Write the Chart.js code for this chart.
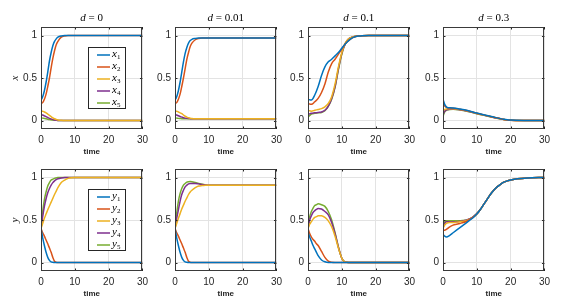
<!DOCTYPE html>
<html><head><meta charset="utf-8">
<script src="https://cdn.jsdelivr.net/npm/chart.js@4/dist/chart.umd.min.js"></script>
<style>
html,body{margin:0;padding:0;background:#fff;}
body{width:569px;height:304px;position:relative;overflow:hidden;}
canvas{position:absolute;}
</style></head>
<body>
<script>
// ---------- data ----------
const dValues = ['0', '0.01', '0.1', '0.3'];
const seriesNames = ['1', '2', '3', '4', '5'];
const xTickVals = [0, 10, 20, 30];
const yTickVals = [0, 0.5, 1];

// top row: x_i(t)
const tX0 = [0,0.5,1,1.5,2,2.5,3,3.5,4,4.5,5,6,7,8,10,20,30];
const x1_d0 = [0.24,0.28,0.35,0.45,0.57,0.70,0.80,0.88,0.93,0.96,0.98,0.995,1,1,1,1,1];
const x2_d0 = [0.20,0.21,0.25,0.31,0.40,0.50,0.62,0.73,0.82,0.89,0.93,0.98,0.995,1,1,1,1];
const x3_d0 = [0.11,0.11,0.10,0.09,0.075,0.06,0.045,0.03,0.02,0.012,0.006,0.002,0,0,0,0,0];
const x4_d0 = [0.07,0.065,0.055,0.045,0.035,0.025,0.017,0.01,0.006,0.003,0.001,0,0,0,0,0,0];
const x5_d0 = [0.03,0.028,0.024,0.02,0.015,0.011,0.008,0.005,0.003,0.002,0.001,0,0,0,0,0,0];

const tX1 = [0,0.5,1,1.5,2,2.5,3,3.5,4,4.5,5,6,7,8,10,20,30];
const x1_d1 = [0.24,0.28,0.35,0.45,0.57,0.69,0.79,0.86,0.91,0.94,0.955,0.965,0.97,0.97,0.97,0.97,0.97];
const x2_d1 = [0.20,0.21,0.25,0.31,0.40,0.50,0.61,0.72,0.80,0.87,0.91,0.95,0.965,0.97,0.97,0.97,0.97];
const x3_d1 = [0.11,0.11,0.10,0.09,0.08,0.065,0.05,0.04,0.032,0.027,0.024,0.021,0.02,0.02,0.02,0.02,0.02];
const x4_d1 = [0.07,0.065,0.056,0.047,0.04,0.033,0.028,0.025,0.023,0.022,0.021,0.02,0.02,0.02,0.02,0.02,0.02];
const x5_d1 = [0.03,0.028,0.025,0.023,0.021,0.02,0.02,0.02,0.02,0.02,0.02,0.02,0.02,0.02,0.02,0.02,0.02];

const tX2 = [0,1,2,3,4,5,6,7,8,9,10,11,12,13,14,15,16,18,20,30];
const x1_d2 = [0.25,0.24,0.30,0.40,0.53,0.63,0.69,0.72,0.76,0.80,0.85,0.90,0.94,0.97,0.985,0.993,0.997,1,1,1];
const x2_d2 = [0.20,0.19,0.22,0.26,0.33,0.43,0.57,0.67,0.72,0.78,0.84,0.90,0.94,0.97,0.985,0.993,0.997,1,1,1];
const x3_d2 = [0.12,0.11,0.12,0.13,0.14,0.16,0.20,0.28,0.43,0.63,0.80,0.91,0.96,0.98,0.99,0.995,0.998,1,1,1];
const x4_d2 = [0.07,0.085,0.09,0.095,0.10,0.12,0.17,0.26,0.40,0.61,0.79,0.90,0.96,0.98,0.99,0.995,0.998,1,1,1];
const x5_d2 = [0.04,0.075,0.085,0.09,0.095,0.115,0.165,0.25,0.39,0.60,0.78,0.90,0.955,0.98,0.99,0.995,0.998,1,1,1];

const tX3 = [0,0.5,1,1.5,2,3,5,7,10,12,15,17,18,19,20,25,30];
const x1_d3 = [0.25,0.19,0.16,0.15,0.15,0.148,0.135,0.12,0.088,0.068,0.04,0.022,0.014,0.008,0.005,0.001,0];
const x2_d3 = [0.20,0.17,0.155,0.148,0.146,0.144,0.132,0.117,0.086,0.066,0.039,0.021,0.013,0.007,0.004,0.001,0];
const x3_d3 = [0.12,0.13,0.135,0.137,0.138,0.138,0.128,0.114,0.083,0.064,0.037,0.02,0.012,0.007,0.004,0.001,0];
const x4_d3 = [0.07,0.11,0.125,0.13,0.133,0.135,0.126,0.112,0.082,0.063,0.036,0.02,0.012,0.007,0.004,0.001,0];
const x5_d3 = [0.05,0.10,0.12,0.127,0.13,0.132,0.124,0.11,0.08,0.062,0.035,0.019,0.011,0.006,0.004,0.001,0];

// bottom row: y_i(t)
const tY0 = [0,0.5,1,1.5,2,2.5,3,3.5,4,4.5,5,6,7,8,9,10,20,30];
const y1_d0 = [0.4,0.29,0.2,0.12,0.06,0.025,0.008,0.002,0,0,0,0,0,0,0,0,0,0];
const y2_d0 = [0.4,0.35,0.31,0.265,0.22,0.17,0.12,0.06,0.015,0.003,0,0,0,0,0,0,0,0];
const y3_d0 = [0.4,0.46,0.52,0.57,0.62,0.665,0.71,0.755,0.80,0.84,0.88,0.94,0.97,0.99,0.998,1,1,1];
const y4_d0 = [0.4,0.54,0.66,0.75,0.82,0.87,0.91,0.94,0.96,0.975,0.985,0.995,1,1,1,1,1,1];
const y5_d0 = [0.4,0.6,0.74,0.83,0.9,0.94,0.97,0.98,0.99,0.995,1,1,1,1,1,1,1,1];

const tY1 = [0,0.5,1,1.5,2,2.5,3,3.5,4,4.5,5,6,7,8,9,10,20,30];
const y1_d1 = [0.4,0.29,0.2,0.12,0.06,0.025,0.008,0.002,0,0,0,0,0,0,0,0,0,0];
const y2_d1 = [0.4,0.35,0.31,0.265,0.22,0.17,0.12,0.06,0.015,0.003,0,0,0,0,0,0,0,0];
const y3_d1 = [0.4,0.46,0.52,0.575,0.63,0.675,0.72,0.76,0.80,0.83,0.85,0.88,0.90,0.905,0.908,0.91,0.91,0.91];
const y4_d1 = [0.4,0.52,0.62,0.72,0.8,0.85,0.89,0.91,0.925,0.93,0.93,0.93,0.925,0.918,0.913,0.91,0.91,0.91];
const y5_d1 = [0.4,0.58,0.72,0.81,0.87,0.91,0.93,0.945,0.95,0.952,0.95,0.94,0.93,0.92,0.913,0.91,0.91,0.91];

const tY2 = [0,0.5,1,1.5,2,2.5,3,4,5,6,7,8,9,10,10.5,11,12,20,30];
const y1_d2 = [0.36,0.3,0.25,0.2,0.16,0.12,0.08,0.03,0.008,0,0,0,0,0,0,0,0,0,0];
const y2_d2 = [0.4,0.34,0.3,0.27,0.25,0.22,0.2,0.13,0.06,0.015,0.002,0,0,0,0,0,0,0,0];
const y3_d2 = [0.4,0.45,0.48,0.51,0.53,0.54,0.55,0.55,0.53,0.49,0.42,0.31,0.17,0.05,0.02,0.005,0,0,0];
const y4_d2 = [0.4,0.5,0.55,0.59,0.61,0.625,0.635,0.63,0.6,0.56,0.47,0.34,0.18,0.05,0.02,0.005,0,0,0];
const y5_d2 = [0.42,0.54,0.6,0.64,0.67,0.68,0.69,0.68,0.66,0.6,0.5,0.35,0.18,0.05,0.02,0.005,0,0,0];

const tY3 = [0,0.5,1,2,3,4,5,6,7,8,9,10,11,12,13,14,15,16,17,18,19,20,22,25,30];
const y1_d3 = [0.33,0.31,0.30,0.32,0.35,0.38,0.41,0.44,0.47,0.50,0.53,0.57,0.62,0.68,0.74,0.80,0.85,0.89,0.92,0.945,0.96,0.97,0.985,0.995,1.0];
const y2_d3 = [0.38,0.38,0.39,0.42,0.44,0.45,0.46,0.47,0.485,0.51,0.535,0.57,0.62,0.68,0.74,0.80,0.85,0.89,0.92,0.945,0.96,0.97,0.985,0.995,1.0];
const y3_d3 = [0.40,0.44,0.46,0.47,0.47,0.475,0.48,0.485,0.495,0.51,0.535,0.57,0.62,0.68,0.74,0.80,0.85,0.89,0.92,0.945,0.96,0.97,0.985,0.995,1.0];
const y4_d3 = [0.42,0.46,0.48,0.48,0.48,0.48,0.485,0.49,0.50,0.515,0.54,0.575,0.62,0.68,0.74,0.80,0.85,0.89,0.92,0.945,0.96,0.97,0.985,0.995,1.0];
const y5_d3 = [0.44,0.48,0.49,0.49,0.49,0.49,0.49,0.495,0.50,0.515,0.54,0.575,0.62,0.68,0.74,0.80,0.85,0.89,0.92,0.945,0.96,0.97,0.985,0.995,1.0];

// ---------- styling / layout ----------
const COLORS = ['#0072BD', '#D95319', '#EDB120', '#7E2F8E', '#77AC30'];
const colLeft = [41, 175, 308, 443];
const rowTop = [27, 169];
const PW = 102, PH = 102;
const ML = 40, MT = 27, MR = 10, MB = 28;

const panels = [
  {row:0, col:0, v:'x', t:tX0, s:[x1_d0,x2_d0,x3_d0,x4_d0,x5_d0], legend:true},
  {row:0, col:1, v:'x', t:tX1, s:[x1_d1,x2_d1,x3_d1,x4_d1,x5_d1]},
  {row:0, col:2, v:'x', t:tX2, s:[x1_d2,x2_d2,x3_d2,x4_d2,x5_d2]},
  {row:0, col:3, v:'x', t:tX3, s:[x1_d3,x2_d3,x3_d3,x4_d3,x5_d3]},
  {row:1, col:0, v:'y', t:tY0, s:[y1_d0,y2_d0,y3_d0,y4_d0,y5_d0], legend:true},
  {row:1, col:1, v:'y', t:tY1, s:[y1_d1,y2_d1,y3_d1,y4_d1,y5_d1]},
  {row:1, col:2, v:'y', t:tY2, s:[y1_d2,y2_d2,y3_d2,y4_d2,y5_d2]},
  {row:1, col:3, v:'y', t:tY3, s:[y1_d3,y2_d3,y3_d3,y4_d3,y5_d3]},
];

const SERIF = '"Liberation Serif", "DejaVu Serif", serif';
const SANS = '"Liberation Sans", Arial, sans-serif';

function drawParts(ctx, parts, x, cy, align) {
  let total = 0;
  parts.forEach(p => { ctx.font = p.font; p.w = ctx.measureText(p.text).width; total += p.w; });
  let cx = align === 'center' ? x - total / 2 : x;
  ctx.textBaseline = 'middle'; ctx.textAlign = 'left';
  parts.forEach(p => { ctx.font = p.font; ctx.fillText(p.text, cx, cy + (p.dy || 0)); cx += p.w; });
}

const framePlugin = {
  id: 'frame',
  afterDatasetsDraw(chart, args, opts) {
    const ctx = chart.ctx;
    const a = chart.chartArea;
    const xs = chart.scales.x, ys = chart.scales.y;
    ctx.save();
    // inward ticks
    ctx.strokeStyle = '#262626';
    ctx.lineWidth = 1;
    ctx.beginPath();
    xTickVals.forEach(v => {
      const px = Math.round(xs.getPixelForValue(v)) + 0.5;
      ctx.moveTo(px, a.bottom); ctx.lineTo(px, a.bottom - 2.5);
      ctx.moveTo(px, a.top); ctx.lineTo(px, a.top + 2.5);
    });
    yTickVals.forEach(v => {
      const py = Math.round(ys.getPixelForValue(v)) + 0.5;
      ctx.moveTo(a.left, py); ctx.lineTo(a.left + 2.5, py);
      ctx.moveTo(a.right, py); ctx.lineTo(a.right - 2.5, py);
    });
    ctx.stroke();
    // box
    ctx.strokeStyle = '#3a3a3a';
    ctx.strokeRect(Math.round(a.left) + 0.5, Math.round(a.top) + 0.5,
                   Math.round(a.right - a.left) - 1, Math.round(a.bottom - a.top) - 1);
    // title
    ctx.fillStyle = '#000';
    if (opts.title) {
      drawParts(ctx, [
        {text: 'd', font: 'italic 11px ' + SERIF},
        {text: ' = ' + opts.title, font: '11px ' + SERIF},
      ], (a.left + a.right) / 2, a.top - 8.5, 'center');
    }
    // legend
    if (opts.legend) {
      const bx = Math.round(a.left + 47) + 0.5, by = Math.round(a.top + 20) + 0.5;
      const bw = 37, bh = 61;
      ctx.fillStyle = '#fff';
      ctx.fillRect(bx, by, bw, bh);
      ctx.strokeStyle = '#262626';
      ctx.lineWidth = 1;
      ctx.strokeRect(bx, by, bw, bh);
      chart.data.datasets.forEach((ds, i) => {
        const yy = by + 7.5 + i * 12;
        ctx.strokeStyle = ds.borderColor;
        ctx.lineWidth = 1.5;
        ctx.beginPath(); ctx.moveTo(bx + 8.5, yy); ctx.lineTo(bx + 21.5, yy); ctx.stroke();
        ctx.fillStyle = '#000';
        drawParts(ctx, [
          {text: opts.v, font: 'italic 11px ' + SERIF},
          {text: seriesNames[i], font: '7px ' + SERIF, dy: 2.5},
        ], bx + 23.5, yy - 0.5, 'left');
      });
    }
    ctx.restore();
  }
};

panels.forEach(p => {
  const c = document.createElement('canvas');
  const w = ML + PW + MR, h = MT + PH + MB;
  c.width = w; c.height = h;
  c.style.width = w + 'px'; c.style.height = h + 'px';
  c.style.left = (colLeft[p.col] - ML) + 'px';
  c.style.top = (rowTop[p.row] - MT) + 'px';
  document.body.appendChild(c);

  const datasets = p.s.map((vals, i) => ({
    label: p.v + seriesNames[i],
    data: p.t.map((tt, k) => ({x: tt, y: vals[k]})),
    borderColor: COLORS[i],
    backgroundColor: COLORS[i],
    borderWidth: 1.5,
    pointRadius: 0,
    cubicInterpolationMode: 'monotone',
    fill: false,
  }));

  new Chart(c, {
    type: 'line',
    data: {datasets},
    options: {
      responsive: false,
      animation: false,
      devicePixelRatio: 1,
      layout: {padding: {top: MT, right: MR, left: 0, bottom: 0}},
      plugins: {
        legend: {display: false},
        tooltip: {enabled: false},
        frame: {title: p.row === 0 ? dValues[p.col] : null, legend: !!p.legend, v: p.v},
      },
      scales: {
        x: {
          type: 'linear', min: 0, max: 30,
          afterFit: s => { s.height = MB; },
          afterBuildTicks: s => { s.ticks = xTickVals.map(v => ({value: v})); },
          ticks: {padding: 5, color: '#262626', font: {family: SANS, size: 10}, maxRotation: 0,
                  callback: v => String(v)},
          grid: {color: '#e3e3e3', drawTicks: false, lineWidth: 1},
          border: {display: false},
          title: {display: true, text: 'time', color: '#262626',
                  font: {family: SANS, size: 8, weight: 'bold'}, padding: {top: 2, bottom: 0}},
        },
        y: {
          type: 'linear', min: -0.1, max: 1.1,
          afterFit: s => { s.width = ML; },
          afterBuildTicks: s => { s.ticks = yTickVals.map(v => ({value: v})); },
          ticks: {padding: 4, color: '#262626', font: {family: SANS, size: 10},
                  callback: v => String(v)},
          grid: {color: '#e3e3e3', drawTicks: false, lineWidth: 1},
          border: {display: false},
          title: {display: p.col === 0, text: p.v, color: '#262626',
                  font: {family: SERIF, size: 11, style: 'italic'}, padding: {top: 8, bottom: 0}},
        }
      }
    },
    plugins: [framePlugin]
  });
});
</script>
</body></html>
